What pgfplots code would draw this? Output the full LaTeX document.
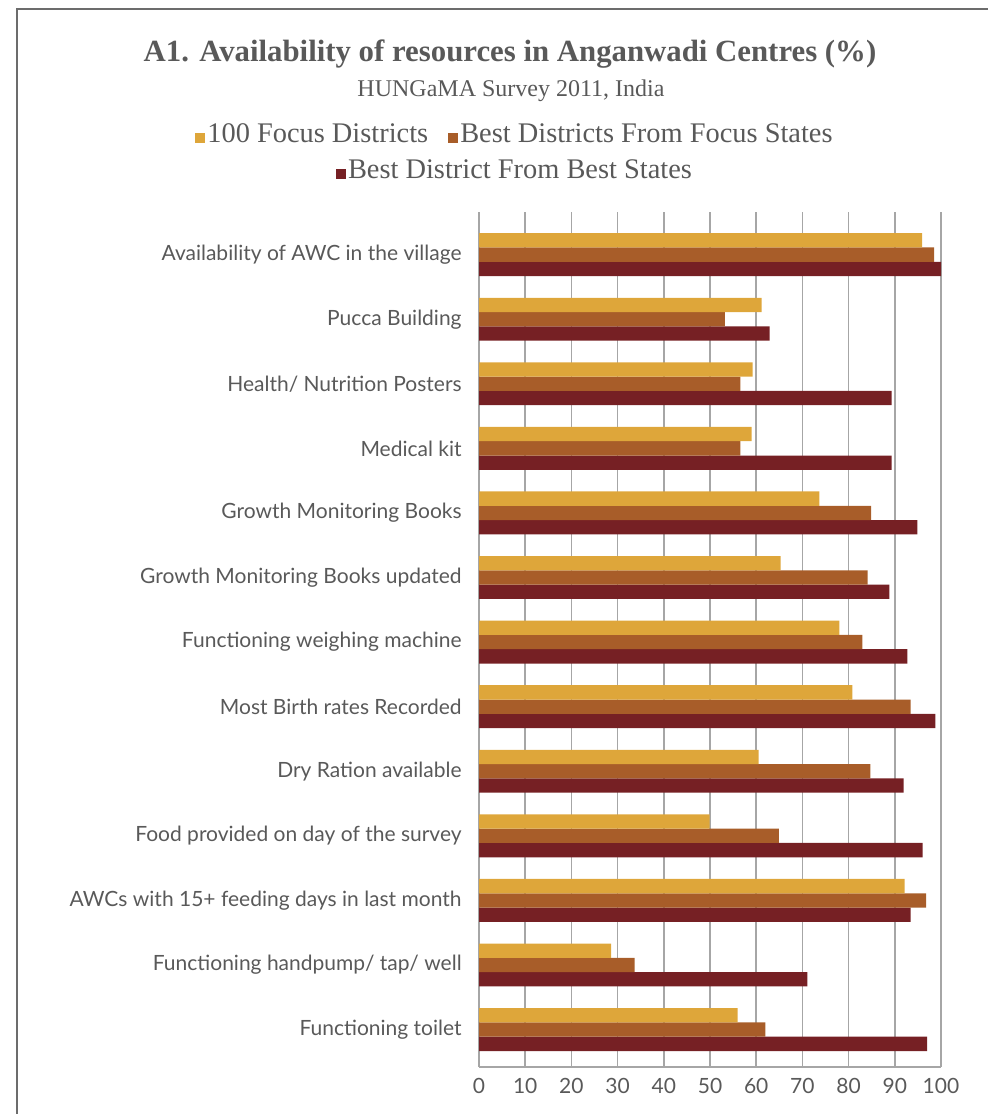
\documentclass[border=0pt]{standalone}
\usepackage{pgfplots}
\pgfplotsset{compat=1.18}
\usepackage{fontspec}
\setmainfont{Liberation Serif}
\newfontfamily\lab{Lato}
\definecolor{cA}{HTML}{DEA63A}
\definecolor{cB}{HTML}{A85D29}
\definecolor{cC}{HTML}{762024}
\definecolor{txt}{HTML}{595959}
\definecolor{grd}{HTML}{A6A6A6}
\newcommand{\sq}[1]{\textcolor{#1}{\rule{5pt}{5pt}}\hspace{1pt}}

\begin{document}
\begin{tikzpicture}
  \path[use as bounding box] (0,0) rectangle (494pt,557pt);
  % outer frame (cut at right and bottom)
  \draw[color=gray!85!black, line width=1pt] (8.5pt,0) -- (8.5pt,552.5pt) -- (494pt,552.5pt);

  \node[anchor=base, text=txt, font=\bfseries\fontsize{15.4}{18}\selectfont]
    at (255pt,526pt) {A1. Availability of resources in Anganwadi Centres (\%)};
  \node[anchor=base, text=txt, font=\fontsize{12}{14}\selectfont]
    at (255.5pt,508.5pt) {HUNGaMA Survey 2011, India};
  \node[anchor=base, text=txt, font=\fontsize{14.2}{16}\selectfont]
    at (257pt,485.5pt) {\sq{cA}100 Focus Districts\hspace{10pt}\sq{cB}Best Districts From Focus States};
  \node[anchor=base, text=txt, font=\fontsize{14.2}{16}\selectfont]
    at (257pt,467.5pt) {\sq{cC}Best District From Best States};

  \begin{axis}[
    at={(239.5pt,23.5pt)}, anchor=south west,
    scale only axis, width=231pt, height=427.5pt,
    xbar=0pt, bar width=7.15pt,
    xmin=0, xmax=100, ymin=-0.66, ymax=12.58, y dir=reverse,
    xtick={0,10,...,100}, ytick={0,...,12},
    yticklabels={
      {Availability of AWC in the village},
      {Pucca Building},
      {Health/ Nutrition Posters},
      {Medical kit},
      {Growth Monitoring Books},
      {Growth Monitoring Books updated},
      {Functioning weighing machine},
      {Most Birth rates Recorded},
      {Dry Ration available},
      {Food provided on day of the survey},
      {AWCs with 15+ feeding days in last month},
      {Functioning handpump/ tap/ well},
      {Functioning toilet}},
    xmajorgrids, major grid style={grd, line width=0.8pt},
    axis x line*=bottom, axis y line*=left,
    axis line style={grd, line width=1pt, -},
    major tick length=0pt,
    tick label style={font=\lab\fontsize{10.5}{12}\selectfont, text=txt},
    /pgf/number format/assume math mode=true,
    yticklabel style={inner sep=0pt, xshift=-8.5pt},
    xticklabel style={inner sep=0pt, yshift=-5.5pt},
    every axis plot/.append style={draw=none},
    ]
    % plotted in reverse order so that the first series sits on top
    % Best District From Best States
    \addplot[fill=cC] coordinates {
      (100,0) (62.9,1) (89.3,2) (89.3,3) (94.9,4) (88.8,5) (92.7,6)
      (98.8,7) (91.9,8) (96.0,9) (93.4,10) (71.1,11) (97.0,12)
    };
    % Best Districts From Focus States
    \addplot[fill=cB] coordinates {
      (98.5,0) (53.2,1) (56.6,2) (56.6,3) (84.9,4) (84.1,5) (83.0,6)
      (93.4,7) (84.7,8) (64.9,9) (96.8,10) (33.7,11) (62.0,12)
    };
    % 100 Focus Districts
    \addplot[fill=cA] coordinates {
      (95.9,0) (61.2,1) (59.2,2) (59.0,3) (73.7,4) (65.3,5) (78.0,6)
      (80.8,7) (60.5,8) (49.9,9) (92.1,10) (28.6,11) (56.0,12)
    };
  \end{axis}
\end{tikzpicture}
\end{document}
